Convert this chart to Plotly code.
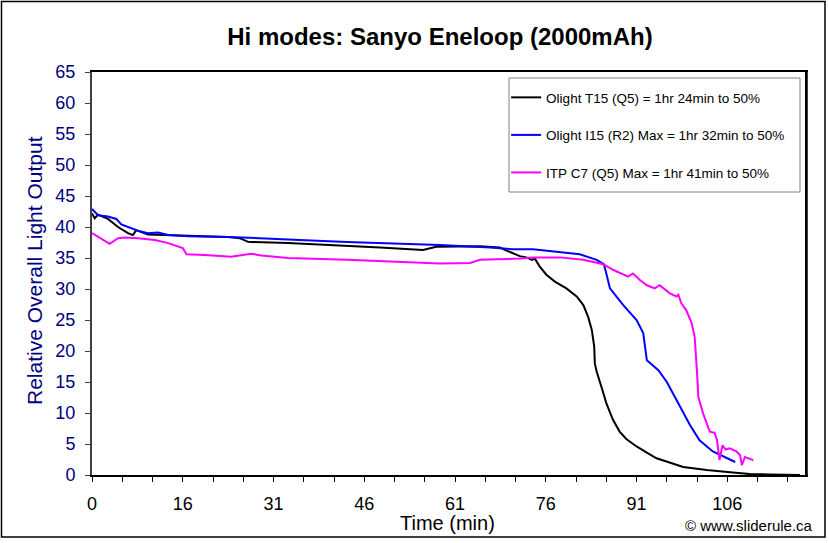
import plotly.graph_objects as go

# ---- data (x in axis units: category position, labelled 0,16,31,...) ----
t15_x = [0, 0.45, 0.99, 2.64, 4.30, 5.95, 6.76, 7.30, 9.25, 15.9, 22.5, 24.4, 25.8, 32.4, 39.3,
         47.6, 54.7, 56.9, 64.1, 65.8, 67.4, 68.5, 69.6, 70.7, 71.8, 72.7, 73.2, 74.0, 75.1, 76.5,
         78.4, 80.1, 81.2, 82.0, 82.6, 83.0, 83.1, 83.4, 84.2, 85.0, 86.1, 87.2, 88.3, 90.0, 91.9,
         93.3, 97.7, 101.6, 105.9, 108.7, 112.0, 117.0]
t15_y = [42.2, 41.4, 42.0, 41.3, 40.0, 39.0, 38.7, 39.5, 38.8, 38.6, 38.4, 38.2, 37.6, 37.4, 37.1,
         36.7, 36.3, 36.8, 36.9, 36.8, 36.7, 36.2, 35.7, 35.3, 35.1, 34.7, 34.9, 33.6, 32.3, 31.2,
         30.1, 28.8, 27.4, 25.5, 23.4, 20.7, 18.0, 16.7, 14.2, 11.6, 8.9, 7.0, 5.8, 4.6, 3.5,
         2.7, 1.3, 0.8, 0.4, 0.15, 0.1, 0.0]

i15_x = [0, 0.99, 2.64, 3.47, 4.02, 4.84, 6.50, 7.60, 9.25, 10.9, 12.6, 15.9, 22.5, 25.8, 32.4,
         42.1, 53.1, 57.5, 65.8, 69.6, 72.9, 77.3, 80.6, 83.4, 84.6, 85.0, 85.6, 87.8, 90.0, 91.1,
         91.7, 93.6, 95.0, 97.2, 98.8, 100.4, 102.6, 106.3]
i15_y = [42.9, 41.9, 41.7, 41.4, 41.3, 40.4, 39.8, 39.4, 39.0, 39.1, 38.7, 38.5, 38.4, 38.3, 38.0,
         37.6, 37.3, 37.1, 36.7, 36.4, 36.4, 36.0, 35.6, 34.7, 34.0, 32.5, 30.1, 27.4, 25.0, 22.9,
         18.5, 16.9, 15.0, 11.0, 8.1, 5.6, 3.8, 2.1]

c7_x = [0, 0.99, 2.93, 4.30, 5.40, 7.60, 10.4, 12.6, 14.2, 15.0, 15.6, 18.6, 23.0, 25.2, 26.3,
        28.0, 30.7, 32.4, 42.1, 50.4, 57.5, 62.5, 64.1, 66.9, 70.7, 72.9, 77.3, 81.2, 84.5, 86.1,
        88.6, 89.4, 90.5, 91.7, 93.0, 93.8, 95.5, 96.6, 96.9, 97.4, 98.2, 99.1, 99.6, 100.0, 100.2,
        101.0, 102.1, 102.9, 103.3, 103.7, 104.2, 104.7, 105.4, 106.5, 107.1, 107.4, 107.9, 109.3]
c7_y = [39.0, 38.4, 37.3, 38.2, 38.3, 38.2, 37.9, 37.4, 36.8, 36.6, 35.6, 35.5, 35.2, 35.5, 35.7,
        35.4, 35.1, 35.0, 34.7, 34.4, 34.1, 34.2, 34.7, 34.8, 34.9, 35.1, 35.1, 34.7, 34.0, 33.1,
        32.0, 32.5, 31.5, 30.6, 30.1, 30.6, 29.3, 28.8, 29.1, 27.7, 26.6, 24.5, 22.3, 16.4, 12.6,
        9.9, 7.0, 6.8, 5.6, 2.4, 4.8, 4.1, 4.3, 3.8, 3.2, 1.6, 2.9, 2.4]

series_names = ["Olight T15 (Q5) = 1hr 24min to 50%",
                "Olight I15 (R2) Max = 1hr 32min to 50%",
                "ITP C7 (Q5) Max = 1hr 41min to 50%"]
series_colors = ["#000000", "#0000FF", "#FF00FF"]

tick_labels = ["0", "16", "31", "46", "61", "76", "91", "106"]
x_max = 118

FONT = "Liberation Sans, Arial, sans-serif"
NAVY = "#000080"

W, H = 829, 543
PL, PT, PW, PH = 92, 72, 714, 403  # plot area in pixels


def px(xw):
    return (xw - PL) / PW


def py(yw):
    return (PT + PH - yw) / PH


# ticks every 5 units, labels every 15 units
tickvals = [5 * i for i in range(int(x_max // 5) + 1)]
ticktext = [tick_labels[i // 3] if (i % 3 == 0 and i // 3 < len(tick_labels)) else "" for i in range(len(tickvals))]

fig = go.Figure()
for i, (xs, ys) in enumerate([(t15_x, t15_y), (i15_x, i15_y), (c7_x, c7_y)]):
    fig.add_trace(go.Scatter(x=xs, y=ys, mode="lines", name=series_names[i],
                             legendgroup=f"g{i}",
                             line=dict(color=series_colors[i], width=2)))

fig.update_layout(
    width=W, height=H,
    margin=dict(l=PL, r=W - PL - PW, t=PT, b=H - PT - PH),
    paper_bgcolor="white", plot_bgcolor="white",
    font=dict(family=FONT, color="black"),
    title=dict(text="<b>Hi modes: Sanyo Eneloop (2000mAh)</b>", x=440 / W, xanchor="center",
               y=1 - 37 / H, yanchor="middle", yref="container",
               font=dict(size=24, family=FONT, color="black")),
    showlegend=True,
    legend=dict(x=0.58, y=0.975, xanchor="left", yanchor="top",
                bgcolor="rgba(0,0,0,0)", borderwidth=0,
                font=dict(size=13.5, family=FONT, color="black"),
                tracegroupgap=17, traceorder="grouped", itemwidth=30),
    xaxis=dict(range=[0, x_max], tickmode="array", tickvals=tickvals, ticktext=ticktext,
               ticks="outside", ticklen=5, tickcolor="#000000", tickwidth=1,
               showgrid=False, zeroline=False, showline=True, mirror=True,
               linecolor="#000000", linewidth=2,
               tickfont=dict(size=18, family=FONT, color="black"), ticklabelstandoff=6),
    yaxis=dict(range=[0, 65], dtick=5, tick0=0,
               ticks="outside", ticklen=5, tickcolor="#404040", tickwidth=1,
               showgrid=False, zeroline=False, showline=True, mirror=True,
               linecolor="#404040", linewidth=2,
               tickfont=dict(size=18, family=FONT, color=NAVY), ticklabelstandoff=6),
)

# legend box
fig.add_shape(type="rect", xref="paper", yref="paper",
              x0=px(509), x1=px(800), y0=py(192), y1=py(78),
              line=dict(color="#808080", width=1), fillcolor="white", layer="below")
# darker right edge of the plot frame
fig.add_shape(type="line", xref="paper", yref="paper", x0=1, x1=1, y0=0, y1=1,
              line=dict(color="#000000", width=2))
# outer chart border
fig.add_shape(type="rect", xref="paper", yref="paper",
              x0=px(1.5), x1=px(825), y0=py(537), y1=py(1.5),
              line=dict(color="#000000", width=1.5), fillcolor="rgba(0,0,0,0)")

fig.add_annotation(text="Relative Overall Light Output", xref="paper", yref="paper",
                   x=px(34), y=py(271), textangle=-90, showarrow=False,
                   xanchor="center", yanchor="middle",
                   font=dict(size=21, family=FONT, color=NAVY))
fig.add_annotation(text="Time (min)", xref="paper", yref="paper",
                   x=px(447), y=py(523), showarrow=False,
                   xanchor="center", yanchor="middle",
                   font=dict(size=20, family=FONT, color="black"))
fig.add_annotation(text="© www.sliderule.ca", xref="paper", yref="paper",
                   x=px(815), y=py(525), showarrow=False,
                   xanchor="right", yanchor="middle",
                   font=dict(size=15, family=FONT, color="black"))

fig.write_html("out.html", config={"displayModeBar": False},
               post_script="document.body.style.margin='0';document.body.style.overflow='hidden';")
